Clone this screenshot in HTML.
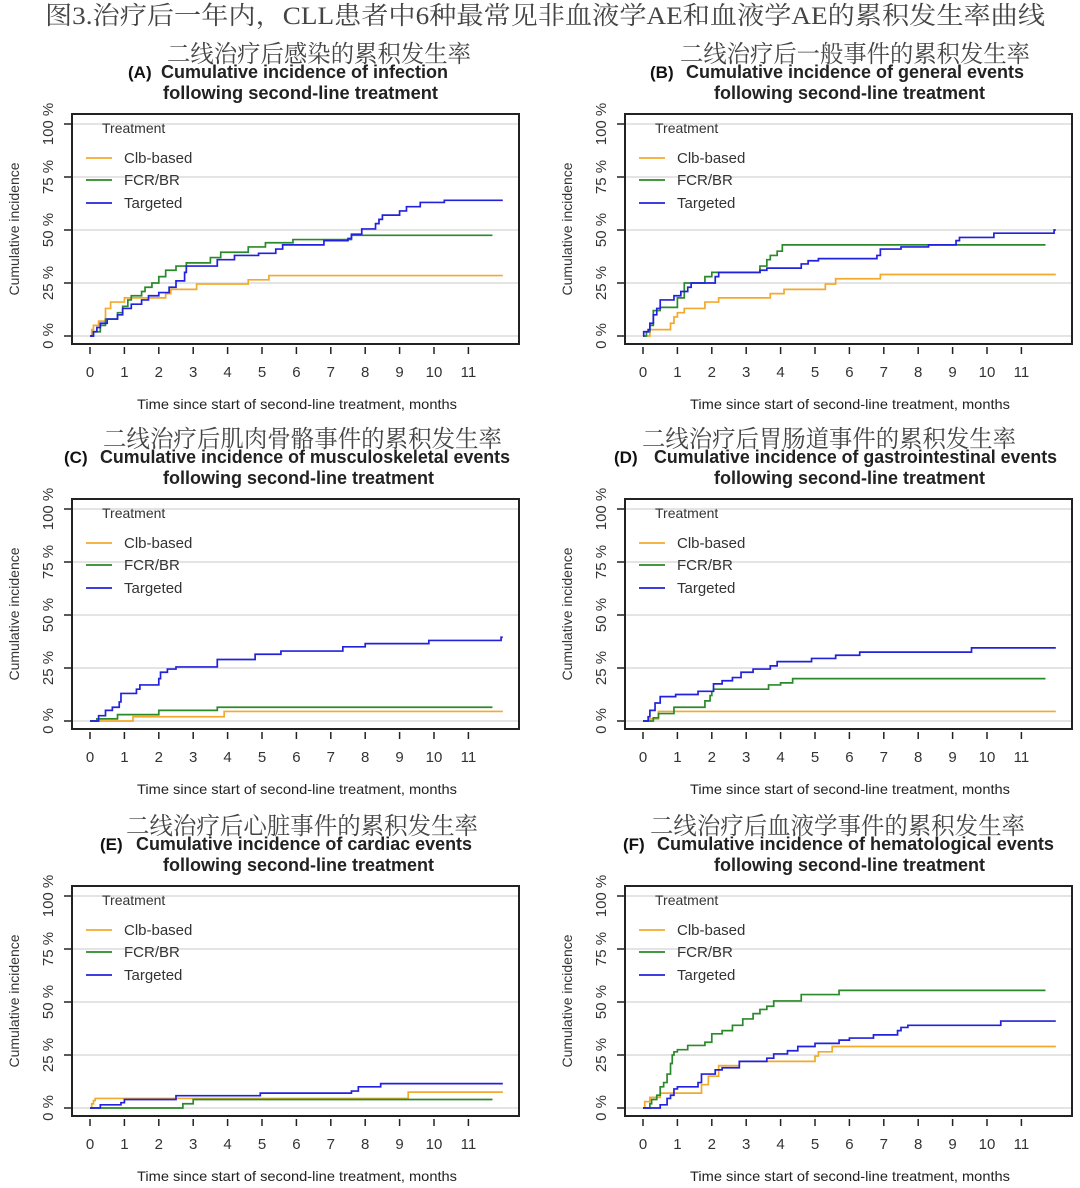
<!DOCTYPE html>
<html><head><meta charset="utf-8"><style>
html,body{margin:0;padding:0;background:#fff;}
svg{display:block;}
text{font-family:"Liberation Sans",sans-serif;}
.cn{font-family:"Liberation Serif","Noto Serif CJK SC",serif;fill:#444;}
</style></head><body>
<svg id="fig" width="1080" height="1188" viewBox="0 0 1080 1188" xmlns="http://www.w3.org/2000/svg">
<rect width="1080" height="1188" fill="#fff"/>
<text class="cn" x="45" y="24" font-size="25" textLength="1000" lengthAdjust="spacingAndGlyphs">图3.治疗后一年内，CLL患者中6种最常见非血液学AE和血液学AE的累积发生率曲线</text>
</svg>
<script>
// ---- data: event times (months) and cumulative incidence (%) ----
const A_clb_t=[0.05,0.1,0.25,0.45,0.6,1.0,2.2,2.35,3.1,4.6,5.2];
const A_clb_v=[3,5,7,13,16,18,20,22,24.5,26.5,28.5];
const A_fcr_t=[0.1,0.3,0.45,0.8,0.95,1.1,1.2,1.5,1.6,1.8,2.0,2.2,2.5,2.8,3.5,3.8,4.6,5.1,5.9,7.6];
const A_fcr_v=[2,5,8,11,14,17,19,21,23,25,28,31,33,34.5,37,39.5,42,44,45.5,47.5];
const A_tgt_t=[0.1,0.2,0.3,0.5,0.8,0.95,1.2,1.5,1.7,2.0,2.3,2.5,2.75,2.8,3.7,4.2,4.9,5.4,5.6,6.8,7.5,7.6,7.9,8.3,8.4,8.5,9.0,9.2,9.6,10.3];
const A_tgt_v=[2,4,6,8,10,13,15,17,19,20.5,23,26,30,33,36,38,39,41,43,45,46,48,50.5,53,55,57,59,61,63,64];

const B_clb_t=[0.2,0.8,0.9,1.0,1.2,1.8,2.2,3.7,4.1,5.3,5.6,6.9];
const B_clb_v=[3,6,9,11,13,16,18,20,22,24.5,27,29];
const B_fcr_t=[0.1,0.2,0.3,0.5,1.0,1.2,1.8,2.0,3.4,3.6,3.7,3.9,4.05];
const B_fcr_v=[2,5,12,13.5,18,25,28,30,33,36,38,40,43];
const B_tgt_t=[0.02,0.15,0.2,0.3,0.4,0.5,0.9,1.1,1.3,1.4,2.1,2.2,3.4,3.6,4.6,4.8,5.1,6.8,6.9,7.5,8.3,9.1,9.2,10.2,11.95];
const B_tgt_v=[2,3,6,10,13,17,19,21,23,25,28,30,31,32,34,35.5,36.5,38,41,42,43,45,46.5,48.5,50];

const C_clb_t=[1.25,3.9];
const C_clb_v=[2,4.5];
const C_fcr_t=[0.2,0.8,2.0,3.7];
const C_fcr_v=[1,3,5,6.5];
const C_tgt_t=[0.25,0.45,0.65,0.85,0.9,1.35,1.45,2.0,2.05,2.25,2.5,3.7,4.8,5.55,7.35,8.0,9.85,11.95];
const C_tgt_v=[2.5,5,6.5,9,13,15,17,20,23,24.5,25.5,29,31.5,33,35,36.5,38,39.5];

const D_clb_t=[0.2,0.45];
const D_clb_v=[1,4.5];
const D_fcr_t=[0.3,0.45,0.9,1.8,1.95,2.0,2.05,3.65,4.0,4.35];
const D_fcr_v=[1.5,3.5,6.5,9.5,12,14,15,17,18,20];
const D_tgt_t=[0.15,0.2,0.35,0.5,0.95,1.6,2.05,2.3,2.6,2.85,3.2,3.7,3.9,4.9,5.6,6.3,9.55];
const D_tgt_v=[2,5,8.5,11.5,12.5,14,17.5,19,20.5,23,24.5,26,28,29.5,31,32.5,34.5];

const E_clb_t=[0.05,0.1,0.15,9.25];
const E_clb_v=[2,3.5,4.5,7.5];
const E_fcr_t=[2.7,3.0];
const E_fcr_v=[2,4];
const E_tgt_t=[0.3,0.9,1.0,2.5,4.95,7.6,7.8,8.45];
const E_tgt_v=[1.5,2.5,4,5.8,7,8,10,11.5];

const F_clb_t=[0.05,0.2,0.5,1.7,1.9,2.2,2.8,5.0,5.1,5.5];
const F_clb_v=[3,5,7,11,15,20,22,24.5,26.5,29];
const F_fcr_t=[0.2,0.25,0.4,0.5,0.6,0.7,0.8,0.85,0.9,1.0,1.3,1.8,2.0,2.3,2.6,2.9,3.2,3.4,3.6,3.8,4.6,5.7];
const F_fcr_v=[2,4,6,10,12,16,21,25,26.5,27.5,29.5,31,35,36.5,39,42,44.5,46.5,48,50.5,53.5,55.5];
const F_tgt_t=[0.5,0.7,0.8,0.9,1.0,1.6,1.7,2.1,2.3,2.8,3.6,3.8,4.2,4.5,5.0,5.7,6.0,6.7,7.4,7.5,7.7,10.4];
const F_tgt_v=[1.5,4.5,6,9,10,12,16,18,19,22,23.5,25.5,27,29,30.5,32,33,34.5,36.5,38,39,41];

const xTicks=[0,1,2,3,4,5,6,7,8,9,10,11];
const yTicks=[0,25,50,75,100];
const yTickLabels=["0 %","25 %","50 %","75 %","100 %"];
const seriesNames=["Clb-based","FCR/BR","Targeted"];
const seriesEnds=[12,11.7,12];
const colors=["#f2a92c","#2a8a2a","#2222dd"];

const NS="http://www.w3.org/2000/svg";
const svg=document.getElementById('fig');
function mk(tag,attrs,parent,txt){const e=document.createElementNS(NS,tag);for(const k in attrs)e.setAttribute(k,attrs[k]);if(txt!==undefined)e.textContent=txt;(parent||svg).appendChild(e);return e;}

const panels=[
 {id:'a',letter:'(A)',ox:0,oy:0,cn:'二线治疗后感染的累积发生率',cnx:[167,471],l:128,m:[161,448],l2:[163,438],main:'Cumulative incidence of infection',d:[[A_clb_t,A_clb_v],[A_fcr_t,A_fcr_v],[A_tgt_t,A_tgt_v]]},
 {id:'b',letter:'(B)',ox:553,oy:0,cn:'二线治疗后一般事件的累积发生率',cnx:[680,1030],l:650,m:[686,1024],l2:[714,985],main:'Cumulative incidence of general events',d:[[B_clb_t,B_clb_v],[B_fcr_t,B_fcr_v],[B_tgt_t,B_tgt_v]]},
 {id:'c',letter:'(C)',ox:0,oy:385,cn:'二线治疗后肌肉骨骼事件的累积发生率',cnx:[103,502],l:64,m:[100,510],l2:[163,434],main:'Cumulative incidence of musculoskeletal events',d:[[C_clb_t,C_clb_v],[C_fcr_t,C_fcr_v],[C_tgt_t,C_tgt_v]]},
 {id:'d',letter:'(D)',ox:553,oy:385,cn:'二线治疗后胃肠道事件的累积发生率',cnx:[642,1016],l:614,m:[654,1057],l2:[714,985],main:'Cumulative incidence of gastrointestinal events',d:[[D_clb_t,D_clb_v],[D_fcr_t,D_fcr_v],[D_tgt_t,D_tgt_v]]},
 {id:'e',letter:'(E)',ox:0,oy:772,cn:'二线治疗后心脏事件的累积发生率',cnx:[126,478],l:100,m:[136,472],l2:[163,434],main:'Cumulative incidence of cardiac events',d:[[E_clb_t,E_clb_v],[E_fcr_t,E_fcr_v],[E_tgt_t,E_tgt_v]]},
 {id:'f',letter:'(F)',ox:553,oy:772,cn:'二线治疗后血液学事件的累积发生率',cnx:[650,1025],l:623,m:[657,1054],l2:[714,985],main:'Cumulative incidence of hematological events',d:[[F_clb_t,F_clb_v],[F_fcr_t,F_fcr_v],[F_tgt_t,F_tgt_v]]}
];

panels.forEach(p=>{
 const g=mk('g',{});
 
 
 const L=72+p.ox,R=519+p.ox,T=114+p.oy,B=344+p.oy;
 const x0=90+p.ox,pxm=34.4,y0=336+p.oy,pxp=2.12;
 const xs=m=>x0+m*pxm, ys=v=>y0-v*pxp;
 const cn=mk('text',{class:'cn',x:p.cnx[0],y:62+p.oy,'font-size':24,textLength:p.cnx[1]-p.cnx[0],lengthAdjust:'spacingAndGlyphs'},g,p.cn);
 
 const t1=mk('text',{x:p.l,y:78+p.oy,'font-size':17,'font-weight':'bold',fill:'#111'},g,p.letter);
 
 const t2=mk('text',{x:p.m[0],y:78+p.oy,'font-size':18,'font-weight':'bold',fill:'#222',textLength:p.m[1]-p.m[0],lengthAdjust:'spacingAndGlyphs'},g,p.main);
 
 const t3=mk('text',{x:p.l2[0],y:99+p.oy,'font-size':18,'font-weight':'bold',fill:'#222',textLength:p.l2[1]-p.l2[0],lengthAdjust:'spacingAndGlyphs'},g,'following second-line treatment');
 
 yTicks.forEach((v,i)=>{
  const gl=mk('line',{x1:L,x2:R,y1:ys(v),y2:ys(v),stroke:'#dcdcdc','stroke-width':1.5},g);
  
  mk('line',{x1:L-8,x2:L,y1:ys(v),y2:ys(v),stroke:'#222','stroke-width':1.5},g);
  const yl=mk('text',{x:0,y:0,'font-size':15,fill:'#333','text-anchor':'middle',transform:`translate(${53+p.ox},${ys(v)}) rotate(-90)`},g,yTickLabels[i]);
  
 });
 xTicks.forEach(m=>{
  mk('line',{x1:xs(m),x2:xs(m),y1:B+3,y2:B+10,stroke:'#222','stroke-width':1.5},g);
  const xl=mk('text',{x:xs(m),y:377+p.oy,'font-size':15,fill:'#333','text-anchor':'middle'},g,String(m));
  
 });
 const xt=mk('text',{x:137+p.ox,y:409+p.oy,'font-size':14,fill:'#222',textLength:320,lengthAdjust:'spacingAndGlyphs'},g,'Time since start of second-line treatment, months');
 
 const yt=mk('text',{x:0,y:0,'font-size':14,fill:'#333','text-anchor':'middle',transform:`translate(${19+p.ox},${(T+B)/2}) rotate(-90)`},g,'Cumulative incidence');
 
 p.d.forEach((s,i)=>{
  let d=`M${xs(0)},${ys(0)}`;
  s[0].forEach((t,j)=>{d+=` H${xs(t)} V${ys(s[1][j])}`;});
  d+=` H${xs(seriesEnds[i])}`;
  const pa=mk('path',{d:d,fill:'none',stroke:colors[i],'stroke-width':1.7},g);
  
  
 });
 const bx=mk('rect',{x:L,y:T,width:R-L,height:B-T,fill:'none',stroke:'#222','stroke-width':2},g);
 
 const lt=mk('text',{x:L+30,y:133+p.oy,'font-size':14,fill:'#333'},g,'Treatment');
 
 [158,180,203].forEach((yy,i)=>{
  const le=mk('g',{},g);
  
  mk('line',{x1:L+14,x2:L+40,y1:yy+p.oy,y2:yy+p.oy,stroke:colors[i],'stroke-width':1.7},le);
  mk('text',{x:L+52,y:yy+5+p.oy,'font-size':15,fill:'#333'},le,seriesNames[i]);
 });
});
</script>
</body></html>
